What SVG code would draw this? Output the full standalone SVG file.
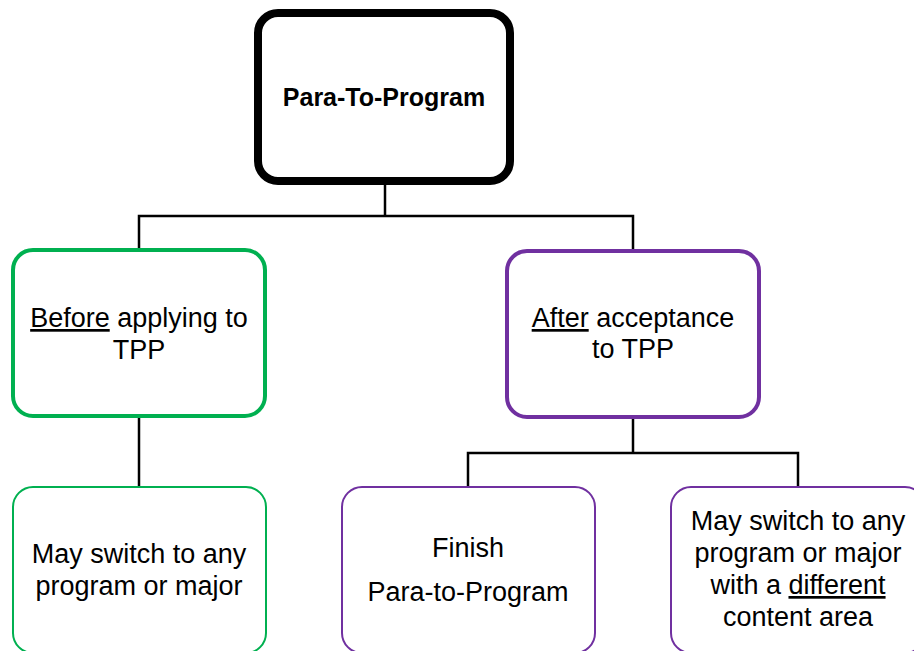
<svg xmlns="http://www.w3.org/2000/svg" width="914" height="651" viewBox="0 0 914 651">
<style>
.t{font-family:"Liberation Sans",Arial,sans-serif;font-size:27px;fill:#000;text-anchor:middle}
.b{font-weight:bold;font-size:25px}
.g{fill:#fff;stroke:#00B050}
.p{fill:#fff;stroke:#7030A0}
.c{fill:none;stroke:#000;stroke-width:2.5}
.u{text-decoration:underline}
</style>
<rect width="914" height="651" fill="#fff"/>
<g id="connectors">
<polyline class="c" points="385,181 385,216"/>
<polyline class="c" points="139,250 139,216 633,216 633,251"/>
<polyline class="c" points="139,416 139,487"/>
<polyline class="c" points="633,418 633,453"/>
<polyline class="c" points="468,487 468,453 798,453 798,487"/>
</g>
<g id="root">
<rect x="258" y="13" width="252" height="168" rx="20" fill="#fff" stroke="#000" stroke-width="8"/>
<text class="t b" x="384" y="106">Para-To-Program</text>
</g>
<g id="before">
<rect class="g" x="13" y="250" width="252" height="166" rx="20" stroke-width="4"/>
<text class="t" x="139" y="327"><tspan class="u">Before</tspan> applying to</text>
<text class="t" x="139" y="359">TPP</text>
</g>
<g id="after">
<rect class="p" x="507" y="251" width="252" height="166" rx="20" stroke-width="4"/>
<text class="t" x="633" y="327"><tspan class="u">After</tspan> acceptance</text>
<text class="t" x="633" y="358">to TPP</text>
</g>
<g id="switch-any">
<rect class="g" x="13" y="487" width="253" height="166" rx="20" stroke-width="2"/>
<text class="t" x="139" y="563">May switch to any</text>
<text class="t" x="139" y="595">program or major</text>
</g>
<g id="finish">
<rect class="p" x="342" y="487" width="253" height="166" rx="20" stroke-width="2"/>
<text class="t" x="468" y="557">Finish</text>
<text class="t" x="468" y="601">Para-to-Program</text>
</g>
<g id="switch-different">
<rect class="p" x="671" y="487" width="254" height="166" rx="20" stroke-width="2"/>
<text class="t" x="798" y="530">May switch to any</text>
<text class="t" x="798" y="562">program or major</text>
<text class="t" x="798" y="594">with a <tspan class="u">different</tspan></text>
<text class="t" x="798" y="626">content area</text>
</g>
</svg>
